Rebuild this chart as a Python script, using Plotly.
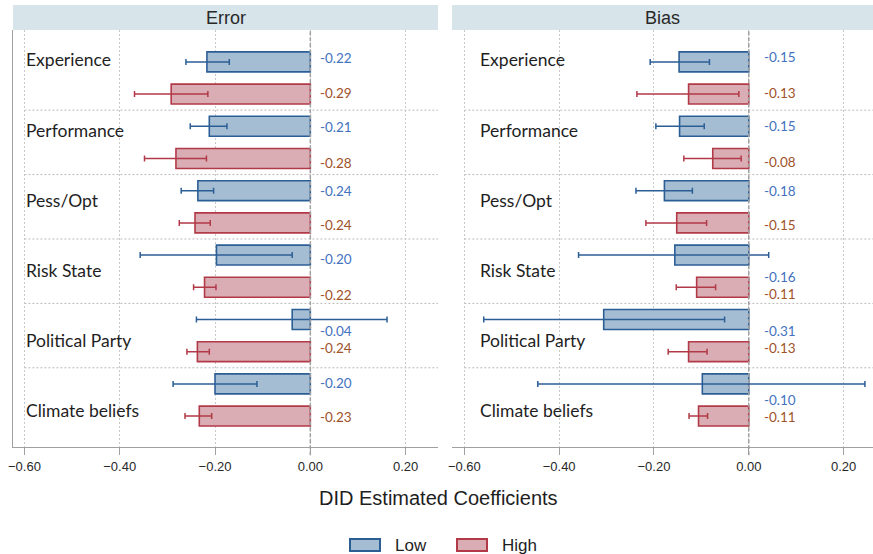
import plotly.graph_objects as go

# ---------------- data ----------------
categories = ["Experience", "Performance", "Pess/Opt", "Risk State", "Political Party", "Climate beliefs"]
panels = ["Error", "Bias"]
groups = ["Low", "High"]

error_low = [-0.217, -0.212, -0.236, -0.197, -0.038, -0.200]
error_low_ci_lo = [-0.261, -0.252, -0.271, -0.357, -0.239, -0.288]
error_low_ci_hi = [-0.170, -0.175, -0.203, -0.038, 0.161, -0.112]
error_high = [-0.292, -0.282, -0.242, -0.222, -0.237, -0.233]
error_high_ci_lo = [-0.369, -0.348, -0.275, -0.245, -0.259, -0.263]
error_high_ci_hi = [-0.215, -0.218, -0.210, -0.198, -0.212, -0.207]

bias_low = [-0.147, -0.146, -0.178, -0.156, -0.306, -0.098]
bias_low_ci_lo = [-0.208, -0.196, -0.238, -0.359, -0.559, -0.445]
bias_low_ci_hi = [-0.083, -0.094, -0.119, 0.042, -0.051, 0.245]
bias_high = [-0.127, -0.076, -0.152, -0.110, -0.127, -0.106]
bias_high_ci_lo = [-0.236, -0.137, -0.217, -0.153, -0.170, -0.126]
bias_high_ci_hi = [-0.021, -0.016, -0.089, -0.070, -0.088, -0.087]

x_ticks = [-0.6, -0.4, -0.2, 0.0, 0.2]

# ---------------- style ----------------
W, H = 873, 554
fill = {"Low": "rgb(164,189,211)", "High": "rgb(217,173,179)"}
edge = {"Low": "rgb(44,94,150)", "High": "rgb(178,58,72)"}
label_col = {"Low": "rgb(68,114,190)", "High": "rgb(160,82,40)"}
cat_font = "Lato"
ax_font = "Liberation Sans"

# value-label vertical nudges (bar-slot units), per panel, per group
label_nudge = {
    "Error": {"Low": [-0.12, 0.03, 0.0, 0.12, 0.35, -0.03],
              "High": [-0.03, 0.15, 0.06, 0.25, -0.12, 0.03]},
    "Bias": {"Low": [-0.15, 0.0, 0.0, 0.68, 0.35, 0.5],
             "High": [-0.03, 0.12, 0.06, 0.22, -0.12, 0.03]},
}

data = {
    "Error": {"Low": (error_low, error_low_ci_lo, error_low_ci_hi),
              "High": (error_high, error_high_ci_lo, error_high_ci_hi)},
    "Bias": {"Low": (bias_low, bias_low_ci_lo, bias_low_ci_hi),
             "High": (bias_high, bias_high_ci_lo, bias_high_ci_hi)},
}

def px_x(p):
    return p / W

def px_y(p):
    return (H - p) / H

plot_top, plot_bot = 30, 447
panel_px = {"Error": (13, 438), "Bias": (452, 873)}
xranges = {"Error": [-0.624, 0.268], "Bias": [-0.626, 0.262]}
yrange_ = [11.96, -0.99]

fig = go.Figure()
shapes = []
annotations = []

for pi, panel in enumerate(panels):
    xa = "x" if pi == 0 else "x2"
    ya = "y" if pi == 0 else "y2"
    for gi, g in enumerate(groups):
        vals, lo, hi = data[panel][g]
        pos = [2 * k + gi for k in range(len(categories))]
        fig.add_trace(go.Bar(
            x=vals, y=pos, orientation="h", width=0.62,
            name=g, showlegend=False,
            marker=dict(color=fill[g], line=dict(color=edge[g], width=1.6)),
            error_x=dict(type="data", symmetric=False,
                         array=[h - v for h, v in zip(hi, vals)],
                         arrayminus=[v - l for v, l in zip(vals, lo)],
                         color=edge[g], thickness=1.5, width=3),
            xaxis=xa, yaxis=ya,
        ))
        for k, v in enumerate(vals):
            annotations.append(dict(
                x=0, y=pos[k] + label_nudge[panel][g][k], xref=xa, yref=ya,
                text=f"{v:.2f}", showarrow=False, xanchor="left", yanchor="middle",
                xshift=8 if pi == 0 else 13,
                font=dict(family=cat_font, size=13.5, color=label_col[g]),
            ))
    # separators between categories
    for k in range(1, len(categories)):
        shapes.append(dict(type="line", xref=xa, yref=ya, x0=-0.6, x1=xranges[panel][1],
                           y0=2 * k - 0.5, y1=2 * k - 0.5,
                           line=dict(color="rgb(185,185,185)", width=1, dash="2px,2px"), layer="below"))
    # zero reference line
    shapes.append(dict(type="line", xref=xa, yref=ya + " domain", x0=0, x1=0, y0=-0.02, y1=1,
                       line=dict(color="rgb(160,160,160)", width=1.5, dash="4px,2px")))
    # header strip
    x0p, x1p = panel_px[panel]
    shapes.append(dict(type="rect", xref="paper", yref="paper",
                       x0=px_x(x0p), x1=px_x(x1p), y0=px_y(plot_top), y1=px_y(5),
                       fillcolor="rgb(215,228,234)", line=dict(width=0)))
    annotations.append(dict(x=px_x((x0p + x1p) / 2), y=px_y(17.5), xref="paper", yref="paper",
                            text=panel, showarrow=False, xanchor="center", yanchor="middle",
                            font=dict(family=ax_font, size=18, color="rgb(40,40,40)")))
    # category labels
    cat_x = 24 if pi == 0 else 478
    for k, c in enumerate(categories):
        annotations.append(dict(x=px_x(cat_x), y=px_y(60 + 70 * k), xref="paper", yref="paper",
                                text=c, showarrow=False, xanchor="left", yanchor="middle",
                                font=dict(family=cat_font, size=17.5, color="rgb(30,30,30)")))

# axis title
annotations.append(dict(x=px_x(438), y=px_y(498), xref="paper", yref="paper",
                        text="DID Estimated Coefficients", showarrow=False,
                        xanchor="center", yanchor="middle",
                        font=dict(family=ax_font, size=20, color="rgb(30,30,30)")))

# legend (drawn)
leg = {"Low": (350, 393), "High": (457, 500)}
for g in groups:
    sx, tx = leg[g]
    shapes.append(dict(type="rect", xref="paper", yref="paper",
                       x0=px_x(sx), x1=px_x(sx + 30), y0=px_y(551), y1=px_y(539),
                       fillcolor=fill[g], line=dict(color=edge[g], width=2)))
    annotations.append(dict(x=px_x(tx), y=px_y(545), xref="paper", yref="paper",
                            text=g, showarrow=False, xanchor="left", yanchor="middle",
                            font=dict(family=ax_font, size=17, color="rgb(30,30,30)")))

xaxis_common = dict(
    tickvals=x_ticks, tickformat=".2f",
    showline=True, linecolor="rgb(160,160,160)", linewidth=1,
    ticks="outside", ticklen=7, tickcolor="rgb(160,160,160)", tickwidth=1,
    showgrid=True, gridcolor="rgb(200,200,200)", griddash="1.5px,2.5px", gridwidth=1,
    zeroline=False, fixedrange=True, automargin=False,
    tickfont=dict(family=ax_font, size=13, color="rgb(40,40,40)"),
)
yaxis_common = dict(range=yrange_, showticklabels=False, showgrid=False, zeroline=False,
                    ticks="", fixedrange=True, automargin=False,
                    domain=[px_y(plot_bot), px_y(plot_top)])

fig.update_layout(
    width=W, height=H,
    margin=dict(l=0, r=0, t=0, b=0, autoexpand=False),
    paper_bgcolor="white", plot_bgcolor="white",
    bargap=0, showlegend=False,
    xaxis=dict(domain=[px_x(13), px_x(438)], anchor="y", range=xranges["Error"], **xaxis_common),
    xaxis2=dict(domain=[px_x(452), 1.0], anchor="y2", range=xranges["Bias"], **xaxis_common),
    yaxis=dict(anchor="x", showline=True, linecolor="rgb(160,160,160)", linewidth=1, **yaxis_common),
    yaxis2=dict(anchor="x2", showline=False, **yaxis_common),
    shapes=shapes, annotations=annotations,
)

fig.write_html(
    "out.html",
    config={"displayModeBar": False, "staticPlot": True},
    post_script="document.body.style.margin='0';document.body.style.overflow='hidden';",
)
